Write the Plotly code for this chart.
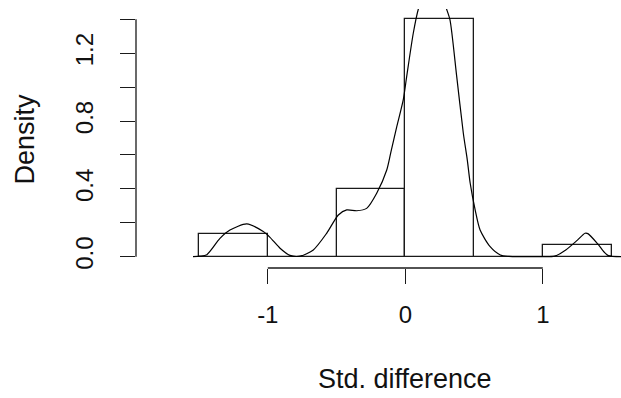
import numpy as np
import plotly.graph_objects as go

# Histogram (density scale)
breaks = [-1.5, -1.0, -0.5, 0.0, 0.5, 1.0, 1.5]
density = [0.1333, 0.0, 0.4, 1.4, 0.0, 0.0667]

# Kernel density curve
kde_x = [-1.544, -1.494, -1.443, -1.348, -1.275, -1.153, -1.033, -0.984, -0.911,
         -0.839, -0.766, -0.669, -0.572, -0.487, -0.426, -0.353, -0.281, -0.208,
         -0.135, -0.104, -0.062, -0.015, 0.010, 0.058, 0.095, 0.150, 0.200, 0.250,
         0.300, 0.325, 0.374, 0.422, 0.451, 0.472, 0.508, 0.544, 0.617, 0.691,
         0.753, 0.826, 0.916, 0.999, 1.085, 1.167, 1.252, 1.307, 1.328, 1.400,
         1.448, 1.477, 1.569]
kde_y = [0.0, 0.003, 0.012, 0.108, 0.157, 0.193, 0.148, 0.114, 0.05,
         0.008, 0.003, 0.04, 0.138, 0.246, 0.276, 0.271, 0.285, 0.374,
         0.511, 0.62, 0.767, 0.925, 1.062, 1.318, 1.461, 1.58, 1.60, 1.57,
         1.461, 1.397, 1.062, 0.728, 0.57, 0.433, 0.276, 0.157, 0.059, 0.01,
         0.002, 0.0, 0.0, 0.0, 0.003, 0.04, 0.098, 0.138, 0.136, 0.075,
         0.025, 0.006, 0.0]

x_ticks = [-1, 0, 1]
y_ticks = [0.0, 0.2, 0.4, 0.6, 0.8, 1.0, 1.2, 1.4]
y_ticklabels = ["0.0", "", "0.4", "", "0.8", "", "1.2", ""]

x_label = "Std. difference"
y_label = "Density"

b = np.array(breaks)
centers = (b[:-1] + b[1:]) / 2
widths = np.diff(b)

FONT = "Liberation Sans, Arial, sans-serif"
ink = "#1a1a1a"
TICK_SIZE = 24
LAB_SIZE = 27

fig = go.Figure()
fig.add_trace(go.Bar(
    x=centers, y=density, width=widths,
    marker=dict(color="white", line=dict(color=ink, width=1.3)),
    hoverinfo="skip",
))
fig.add_trace(go.Scatter(
    x=kde_x, y=kde_y, mode="lines",
    line=dict(color="#000000", width=1.2, shape="spline", smoothing=0.7),
    hoverinfo="skip", cliponaxis=True,
))

# axis lines spanning the tick range only (R style)
fig.add_shape(type="line", xref="x", yref="paper",
              x0=min(x_ticks), x1=max(x_ticks), y0=0, y1=0,
              line=dict(color=ink, width=1.3))
fig.add_shape(type="line", xref="paper", yref="y",
              x0=0, x1=0, y0=min(y_ticks), y1=max(y_ticks),
              line=dict(color=ink, width=1.3))

fig.add_annotation(text=x_label, xref="x", yref="paper", x=0, y=-0.4286,
                   showarrow=False, font=dict(family=FONT, size=LAB_SIZE, color="#111"),
                   xanchor="center", yanchor="middle")
fig.add_annotation(text=y_label, xref="paper", yref="paper", x=-0.229, y=0.5,
                   textangle=-90, showarrow=False,
                   font=dict(family=FONT, size=LAB_SIZE, color="#111"),
                   xanchor="center", yanchor="middle")

fig.update_layout(
    width=621, height=398,
    margin=dict(l=136, r=0, t=9, b=130, autoexpand=False),
    paper_bgcolor="white", plot_bgcolor="white",
    showlegend=False, bargap=0,
    font=dict(family=FONT, size=TICK_SIZE, color="#111"),
    xaxis=dict(range=[-1.9585, 1.5687], tickvals=x_ticks,
               ticktext=[str(t) for t in x_ticks],
               ticks="outside", ticklen=15, tickwidth=1.3, tickcolor=ink,
               ticklabelstandoff=10,
               showline=False, showgrid=False, zeroline=False,
               tickfont=dict(family=FONT, size=TICK_SIZE, color="#111")),
    yaxis=dict(range=[-0.0667, 1.461], tickvals=y_ticks, ticktext=y_ticklabels,
               ticks="outside", ticklen=15, tickwidth=1.3, tickcolor=ink,
               tickangle=-90, ticklabelstandoff=17,
               showline=False, showgrid=False, zeroline=False,
               tickfont=dict(family=FONT, size=TICK_SIZE, color="#111")),
)

fig.write_html("out.html", config={"displayModeBar": False},
               post_script="document.body.style.margin='0';document.body.style.padding='0';")
